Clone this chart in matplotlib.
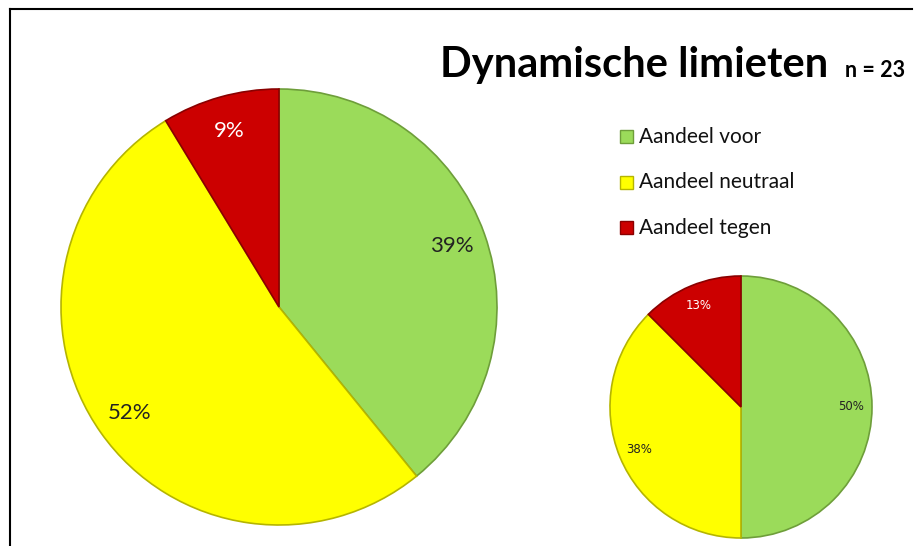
import matplotlib.pyplot as plt
from matplotlib.patches import Rectangle

# data (aantallen; labels worden afgerond percentages)
categorieen = ['Aandeel voor', 'Aandeel neutraal', 'Aandeel tegen']
kleuren = ['#9BDB5A', '#FFFF00', '#CC0000']
randkleuren = ['#6E9E3A', '#B5B500', '#8A0000']
groot_aantallen = [9, 12, 2]
klein_aantallen = [4, 3, 1]
titel = 'Dynamische limieten'
n_tekst = 'n = 23'

W, H = 915, 546
fig = plt.figure(figsize=(W / 100, H / 100), dpi=100)
ax = fig.add_axes([0, 0, 1, 1])

# frame lines (top and left)
ax.plot([10, 912], [H - 9, H - 9], color='black', lw=1.5)
ax.plot([10, 10], [0, H - 9], color='black', lw=1.5)


def taart(waarden, centrum, straal, pctdist, grootte, fam):
    wedges, _, autotexts = ax.pie(waarden, colors=kleuren, startangle=90, counterclock=False,
                                  center=centrum, radius=straal,
                                  autopct=lambda p: f'{int(p + 0.5)}%',
                                  pctdistance=pctdist, frame=True,
                                  wedgeprops=dict(linewidth=1.2))
    for w, ec in zip(wedges, randkleuren):
        w.set_edgecolor(ec)
    for t, c in zip(autotexts, ['#222222', '#222222', 'white']):
        t.set_color(c)
        t.set_fontsize(grootte)
        t.set_family(fam)


taart(groot_aantallen, (279, H - 307), 218, 0.84, 16, 'Lato')
taart(klein_aantallen, (741, H - 407), 131, 0.84, 8.5, 'DejaVu Sans')
ax.set_xlim(0, W)
ax.set_ylim(0, H)
ax.set_aspect('equal')
ax.axis('off')

# title
ax.text(440, H - 77, titel, fontsize=30, fontweight='bold', family='Lato',
        ha='left', va='baseline')
ax.text(905, H - 77, n_tekst, fontsize=15.5, fontweight='bold', family='Lato',
        ha='right', va='baseline')

# legend
for i, (lab, kl, rk) in enumerate(zip(categorieen, kleuren, randkleuren)):
    y = H - (137 + i * 45.5)
    ax.add_patch(Rectangle((620, y - 6), 13, 13, facecolor=kl, edgecolor=rk, lw=1))
    ax.text(639, y, lab, fontsize=15, family='Lato', ha='left', va='center', color='#111111')

fig.savefig('out.png', dpi=100)
